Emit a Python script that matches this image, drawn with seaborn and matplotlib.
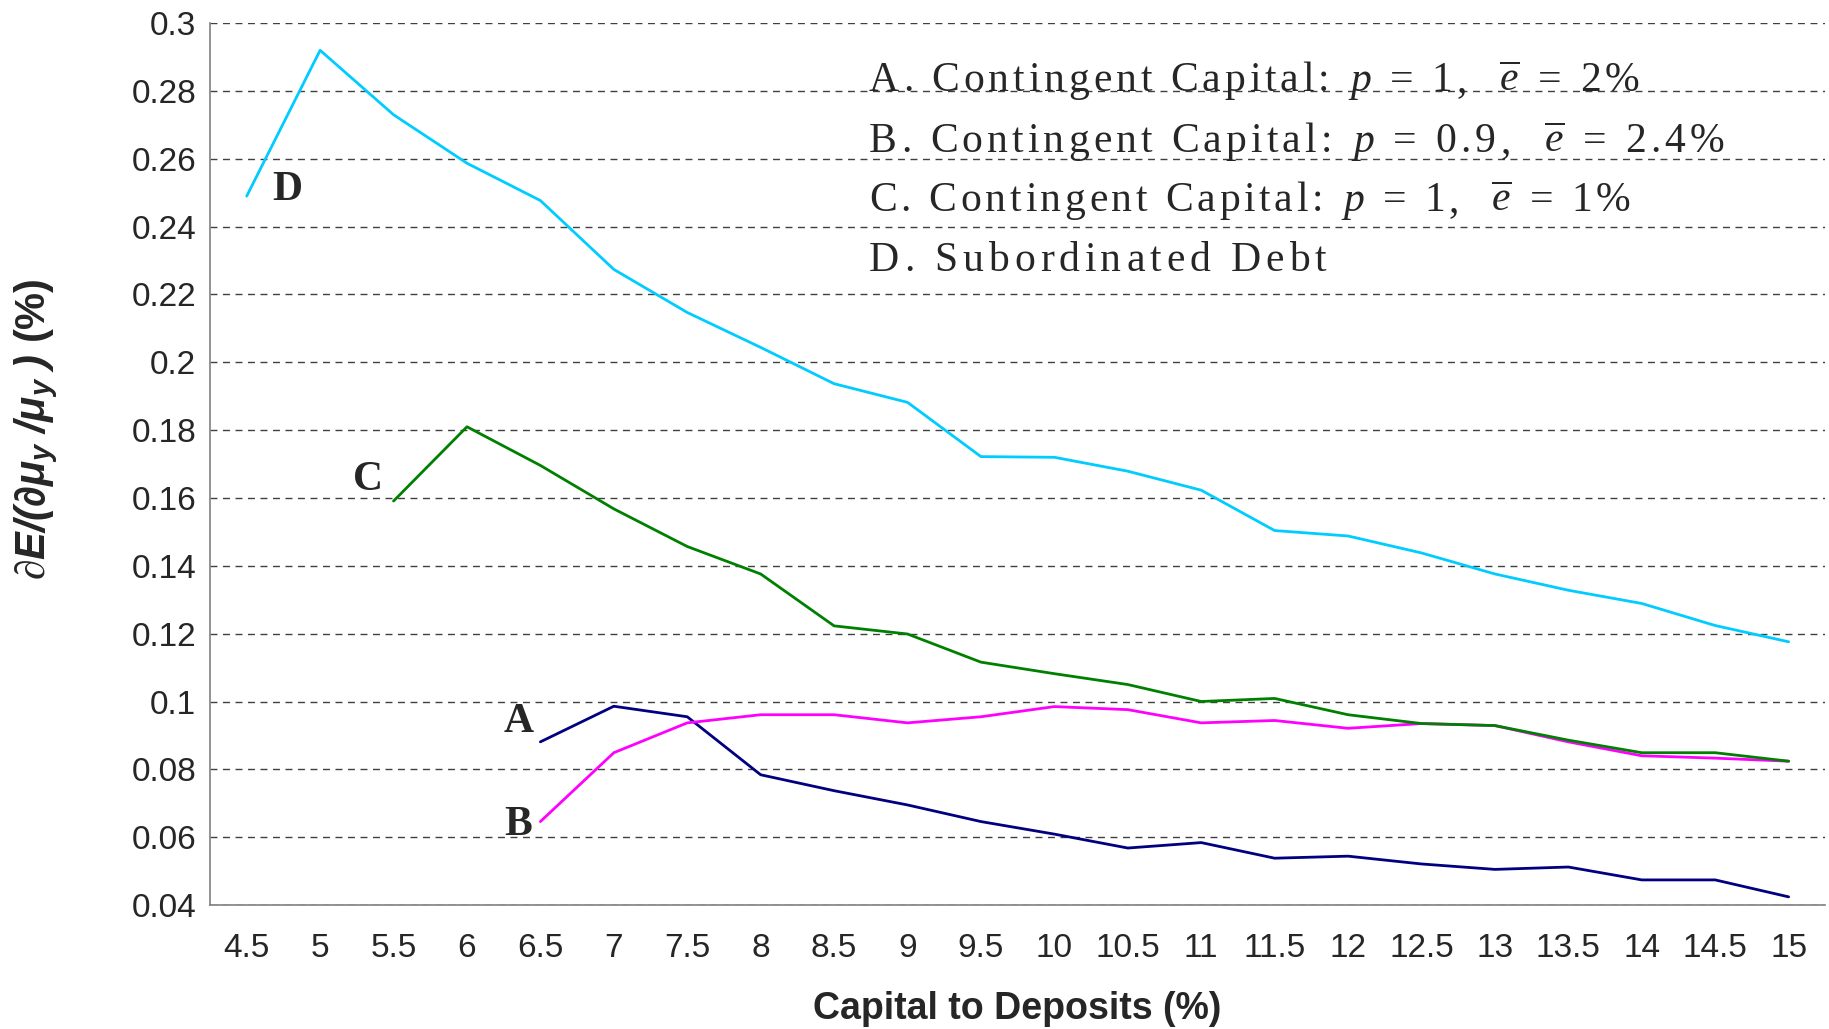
import numpy as np
import pandas as pd
import matplotlib
matplotlib.use("Agg")
import matplotlib.pyplot as plt
import seaborn as sns

# Capital to deposits categories (x axis)
capital = ['4.5', '5', '5.5', '6', '6.5', '7', '7.5', '8', '8.5', '9', '9.5', '10',
           '10.5', '11', '11.5', '12', '12.5', '13', '13.5', '14', '14.5', '15']

# series values (None where the series has no point)
cc_a = [None, None, None, None, 0.0881, 0.0986, 0.0955, 0.0784, 0.0737, 0.0695, 0.0646, 0.0609,
        0.0568, 0.0584, 0.0538, 0.0544, 0.0521, 0.0505, 0.0512, 0.0474, 0.0474, 0.0424]
cc_b = [None, None, None, None, 0.0646, 0.0849, 0.0937, 0.0961, 0.0961, 0.0937, 0.0955, 0.0985,
        0.0976, 0.0937, 0.0944, 0.0921, 0.0935, 0.0929, 0.0881, 0.0840, 0.0833, 0.0824]
cc_c = [None, None, 0.1591, 0.1810, 0.1696, 0.1568, 0.1457, 0.1376, 0.1223, 0.1199, 0.1116, 0.1082,
        0.1050, 0.1000, 0.1009, 0.0961, 0.0935, 0.0929, 0.0886, 0.0849, 0.0849, 0.0824]
sub_d = [0.2490, 0.2920, 0.2730, 0.2587, 0.2477, 0.2274, 0.2147, 0.2044, 0.1937, 0.1882, 0.1722, 0.1720,
         0.1679, 0.1623, 0.1504, 0.1488, 0.1438, 0.1376, 0.1328, 0.1289, 0.1224, 0.1176]

series_names = ['A', 'B', 'C', 'D']
colors = {'A': '#000080', 'B': '#FF00FF', 'C': '#008000', 'D': '#00CCFF'}

rows = []
for name, vals in zip(series_names, [cc_a, cc_b, cc_c, sub_d]):
    for i, v in enumerate(vals):
        if v is not None:
            rows.append({'pos': i, 'value': v, 'series': name})
df = pd.DataFrame(rows)

sns.set_style("white")
plt.rcParams['font.family'] = ['Liberation Sans', 'DejaVu Sans']
plt.rcParams['mathtext.fontset'] = 'custom'
plt.rcParams['mathtext.rm'] = 'Liberation Serif'
plt.rcParams['mathtext.it'] = 'Liberation Serif:italic'
plt.rcParams['mathtext.bf'] = 'Liberation Sans:bold:italic'

fig = plt.figure(figsize=(18.29, 10.29), dpi=100)
ax = fig.add_axes([0.1148, 0.1205, 0.8832, 0.857])

sns.lineplot(data=df, x='pos', y='value', hue='series', palette=colors,
             linewidth=2.0, legend=False, ax=ax)

ax.set_xlim(-0.5, len(capital) - 0.5)
ax.set_ylim(0.04, 0.3)
ax.set_yticks(np.arange(0.04, 0.3001, 0.02))
ax.set_yticklabels(['0.04', '0.06', '0.08', '0.1', '0.12', '0.14', '0.16', '0.18',
                    '0.2', '0.22', '0.24', '0.26', '0.28', '0.3'], fontsize=24)
ax.set_xticks(range(len(capital)))
ax.set_xticklabels(capital, fontsize=24)
ax.set_xticks(np.arange(-0.5, len(capital), 1.0), minor=True)
ax.tick_params(axis='x', which='major', length=0, pad=20)
ax.tick_params(axis='x', which='minor', length=9, width=1, color='#808080', direction='out')
ax.tick_params(axis='y', which='major', length=7, width=1, color='#808080', direction='out', pad=3)

ax.yaxis.grid(True, linestyle=(0, (5, 4)), color='#404040', linewidth=1)
ax.xaxis.grid(False)
for s in ['top', 'right']:
    ax.spines[s].set_visible(False)
for s in ['left', 'bottom']:
    ax.spines[s].set_color('#808080')
    ax.spines[s].set_linewidth(1.2)

ax.set_xlabel('Capital to Deposits (%)', fontsize=27, fontweight='bold')
ax.xaxis.set_label_coords(0.5, -0.098)
ax.set_ylabel(r'$\partial\mathbf{E/(\partial\mu_y\ /\mu_y\ )}$ (%)', fontsize=30,
              fontweight='bold')
ax.yaxis.set_label_coords(-0.093, 0.54)

# series letters next to the line starts
lab_kw = dict(fontsize=30, fontweight='bold', family='Liberation Serif', va='center', ha='center')
ax.text(0.55, 0.2508, 'D', **lab_kw)
ax.text(1.65, 0.1652, 'C', **lab_kw)
ax.text(3.7, 0.0940, 'A', **lab_kw)
ax.text(3.7, 0.0637, 'B', **lab_kw)

# legend text block, drawn with letter spacing like the original
fig.canvas.draw()
renderer = fig.canvas.get_renderer()
W, H = fig.bbox.width, fig.bbox.height


def spaced_line(tokens, x0, x1, y, size):
    space = size * 0.25 * fig.dpi / 72

    def place(gap):
        arts = []
        x = x0
        for tok in tokens:
            if tok == ' ':
                x += space + gap
                continue
            t = fig.text(x / W, y / H, tok, fontsize=size, family='Liberation Serif',
                         va='baseline', ha='left')
            arts.append(t)
            x = t.get_window_extent(renderer).x1 + gap
        return arts, x - gap

    arts, end = place(0)
    for a in arts:
        a.remove()
    gap = (x1 - end) / (len(tokens) - 1)
    place(gap)


legend_lines = [
    list('A. Contingent Capital: ') + ['$p$'] + list(' = 1,  ') + [r'$\overline{e}$'] + list(' = 2%'),
    list('B. Contingent Capital: ') + ['$p$'] + list(' = 0.9,  ') + [r'$\overline{e}$'] + list(' = 2.4%'),
    list('C. Contingent Capital: ') + ['$p$'] + list(' = 1,  ') + [r'$\overline{e}$'] + list(' = 1%'),
    list('D. Subordinated Debt'),
]
line_ends = [1639, 1724, 1630, 1326]
baselines = [938, 877, 818, 758]
for toks, xe, yb in zip(legend_lines, line_ends, baselines):
    spaced_line(toks, 869, xe, yb, 30)

fig.savefig('out.png', dpi=100)
